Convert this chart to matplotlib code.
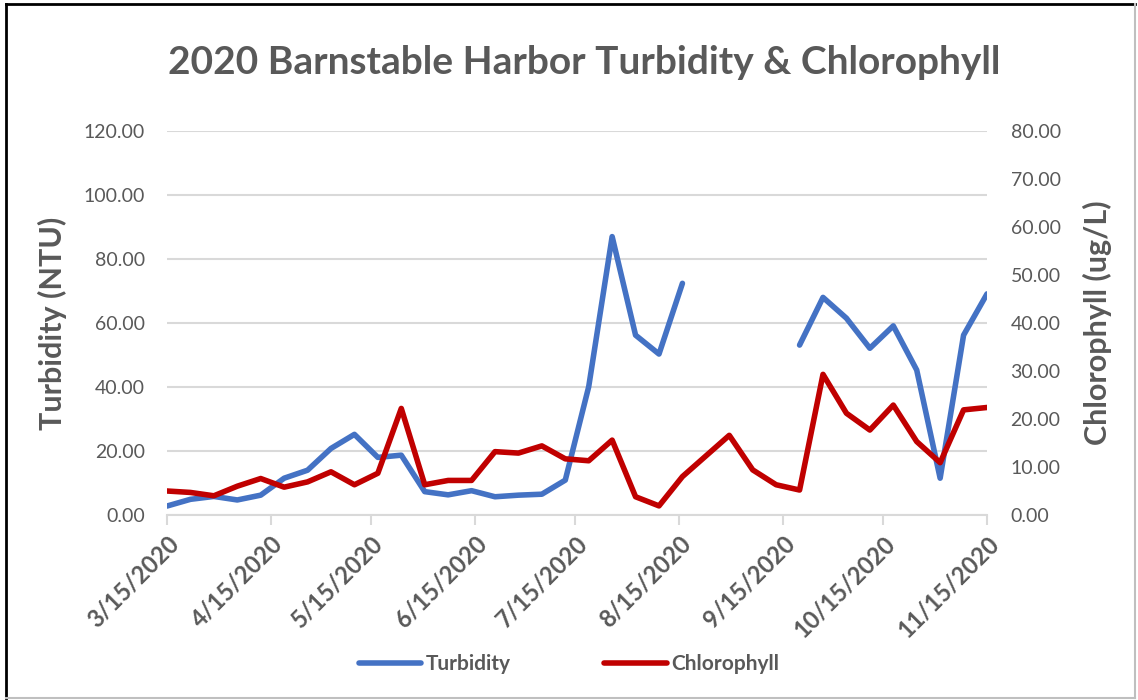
import matplotlib
matplotlib.use("Agg")
import matplotlib.pyplot as plt
import matplotlib.lines as mlines
import numpy as np
import pandas as pd

# weekly samples, 3/15/2020 - 11/15/2020
dates = pd.date_range("2020-03-15", "2020-11-15", freq="7D")
turbidity = [2.8, 4.9, 5.8, 4.7, 6.2, 11.5, 14.0, 20.8, 25.2, 18.0, 18.7, 7.3,
             6.3, 7.6, 5.7, 6.2, 6.5, 10.9, 40.1, 87.0, 56.2, 50.3, 72.4,
             np.nan, np.nan, np.nan, np.nan,
             53.1, 68.0, 61.5, 52.1, 59.1, 45.3, 11.5, 56.2, 69.1]
chlorophyll = [5.0, 4.7, 4.0, 6.0, 7.6, 5.8, 6.9, 9.0, 6.3, 8.7, 22.2, 6.3,
               7.2, 7.2, 13.2, 12.9, 14.4, 11.7, 11.3, 15.6, 3.8, 1.9, 8.0,
               12.3, 16.6, 9.4, 6.3, 5.2, 29.3, 21.2, 17.7, 22.9, 15.3, 10.9,
               21.9, 22.4]
tick_dates = pd.to_datetime(["2020-03-15", "2020-04-15", "2020-05-15", "2020-06-15",
                             "2020-07-15", "2020-08-15", "2020-09-15", "2020-10-15",
                             "2020-11-15"])

plt.rcParams['font.family'] = ['Lato', 'DejaVu Sans']
grey = '#595959'
grid = '#d9d9d9'

fig = plt.figure(figsize=(11.38, 7.0), dpi=100)
ax = fig.add_axes([167/1138, 185/700, 820/1138, 384/700])
ax2 = ax.twinx()

l1, = ax.plot(dates, turbidity, color='#4472C4', lw=4, solid_capstyle='round', solid_joinstyle='round')
l2, = ax2.plot(dates, chlorophyll, color='#C00000', lw=4, solid_capstyle='round', solid_joinstyle='round')

ax.set_xlim(dates[0], dates[-1])
ax.set_ylim(0, 120)
ax2.set_ylim(0, 80)
ax.set_yticks(np.arange(0, 121, 20))
ax2.set_yticks(np.arange(0, 81, 10))
ax.yaxis.set_major_formatter(matplotlib.ticker.FormatStrFormatter('%.2f'))
ax2.yaxis.set_major_formatter(matplotlib.ticker.FormatStrFormatter('%.2f'))
ax.grid(axis='y', color=grid, lw=1.5)
ax.set_axisbelow(True)

for a in (ax, ax2):
    for s in a.spines.values():
        s.set_visible(False)
ax.spines['bottom'].set_visible(True)
ax.spines['bottom'].set_color(grid)
ax.spines['bottom'].set_linewidth(1.5)

ax.set_xticks(tick_dates)
ax.set_xticklabels([d.strftime('%-m/%-d/%Y') for d in tick_dates], rotation=45,
                   ha='right', rotation_mode='anchor', fontsize=17, fontweight='bold', color=grey)
ax.tick_params(axis='x', length=7, width=1.5, color=grid, pad=5)
ax.tick_params(axis='y', length=0, pad=16, labelsize=14, labelcolor=grey)
ax2.tick_params(axis='y', length=0, pad=17, labelsize=14, labelcolor=grey)

ax.set_ylabel('Turbidity (NTU)', fontsize=22, fontweight='bold', color=grey, labelpad=12)
ax2.set_ylabel('Chlorophyll (ug/L)', fontsize=22, fontweight='bold', color=grey, rotation=90, labelpad=16)

fig.text(0.513, 0.91, '2020 Barnstable Harbor Turbidity & Chlorophyll', ha='center', va='center',
         fontsize=28, fontweight='bold', color=grey)

leg = fig.legend([l1, l2], ['Turbidity', 'Chlorophyll'], loc='center', bbox_to_anchor=(0.5, 0.051),
                 ncol=2, frameon=False, handlelength=3.0, handletextpad=0.2, columnspacing=4.5,
                 prop={'weight': 'bold', 'size': 15})
for t in leg.get_texts():
    t.set_color(grey)

# chart border
fig.add_artist(mlines.Line2D([6/1138, 6/1138], [2/700, 696/700], color='black', lw=2, transform=fig.transFigure))
fig.add_artist(mlines.Line2D([6/1138, 1135/1138], [696/700, 696/700], color='black', lw=2, transform=fig.transFigure))
fig.add_artist(mlines.Line2D([6/1138, 1135/1138], [2/700, 2/700], color='#bfbfbf', lw=1.5, transform=fig.transFigure))
fig.add_artist(mlines.Line2D([1135/1138, 1135/1138], [2/700, 696/700], color='#bfbfbf', lw=1.5, transform=fig.transFigure))

fig.savefig('out.png', dpi=100)
